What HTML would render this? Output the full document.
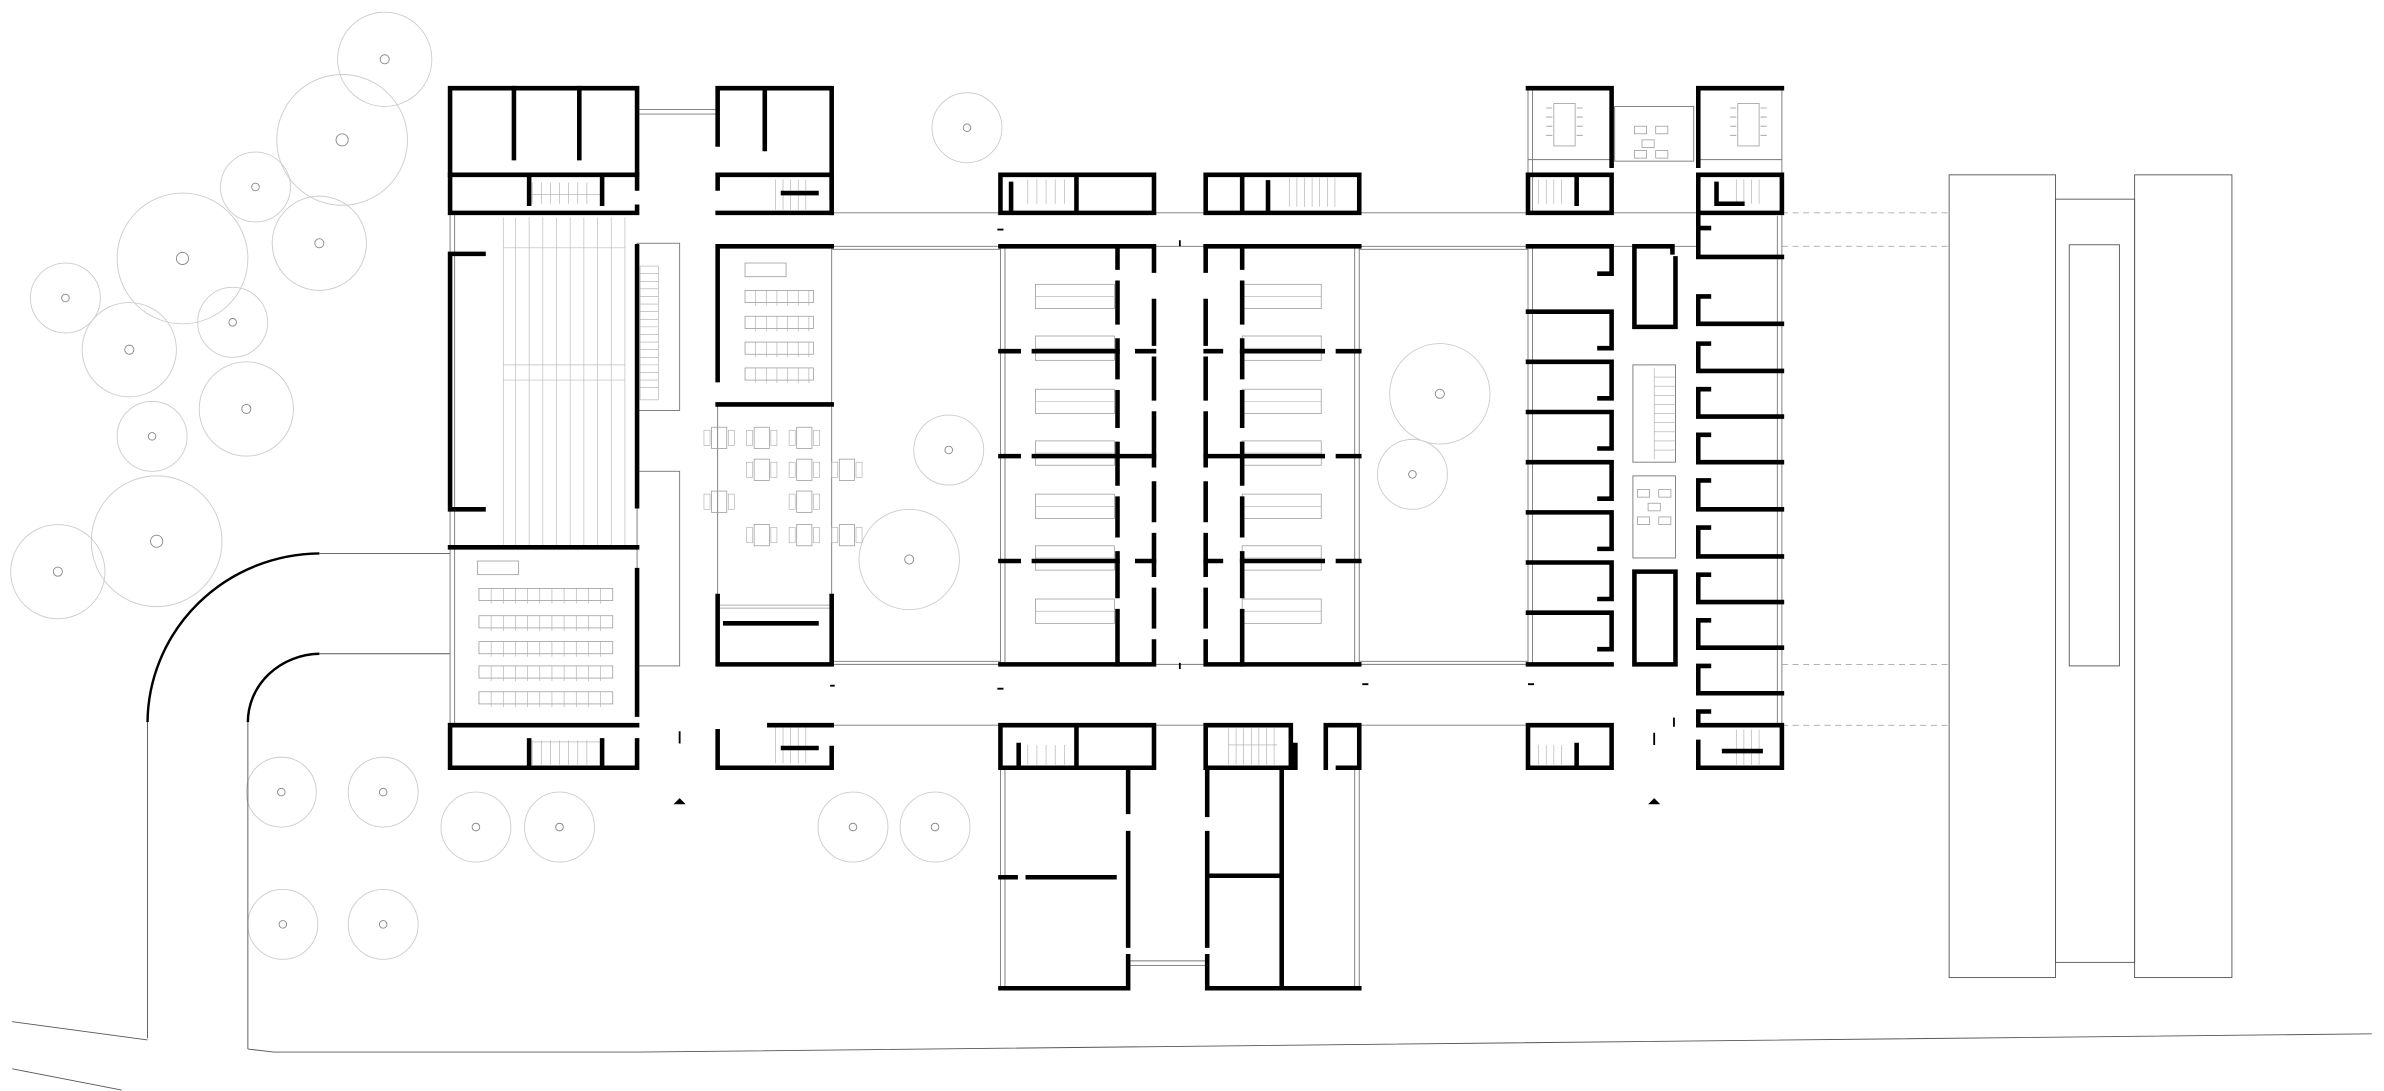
<!DOCTYPE html>
<html><head><meta charset="utf-8"><style>
html,body{margin:0;padding:0;background:#fff;}
svg{display:block;}
</style></head><body>
<svg width="2384" height="1091" viewBox="0 0 1568 717.6" xmlns="http://www.w3.org/2000/svg">
<defs>
<g id="chairrow"><rect x="0" y="0" width="88" height="8" fill="none" stroke="#999" stroke-width="0.5"/>
<path d="M8,0v10M16,0v10M24,0v10M32,0v10M40,0v10M48,0v10M56,0v10M64,0v10M72,0v10M80,0v10" stroke="#aaa" stroke-width="0.4"/></g>
<g id="chairrow2"><rect x="0" y="0" width="45" height="8" fill="none" stroke="#999" stroke-width="0.5"/>
<path d="M7,0v10M14,0v10M21,0v10M28,0v10M35,0v10M42,0v10" stroke="#aaa" stroke-width="0.4"/></g>
<g id="tbl"><rect x="0" y="0" width="10" height="14" fill="none" stroke="#999" stroke-width="0.5"/><rect x="-5" y="2" width="4" height="10" fill="none" stroke="#aaa" stroke-width="0.4"/><rect x="11" y="2" width="4" height="10" fill="none" stroke="#aaa" stroke-width="0.4"/></g>
<g id="desk"><rect x="0" y="0" width="52" height="16" fill="none" stroke="#999" stroke-width="0.5"/><line x1="0" y1="8" x2="52" y2="8" stroke="#aaa" stroke-width="0.4"/></g>
</defs>

<g fill="none" stroke="#ccc" stroke-width="0.6">
<circle cx="253" cy="39" r="31"/><circle cx="225" cy="92" r="43"/><circle cx="168" cy="123" r="23"/><circle cx="120" cy="170" r="43"/><circle cx="210" cy="160" r="31"/><circle cx="43" cy="196" r="23"/><circle cx="85" cy="230" r="31"/><circle cx="153" cy="212" r="23"/><circle cx="162" cy="269" r="31"/><circle cx="100" cy="287" r="23"/><circle cx="103" cy="356" r="43"/><circle cx="38" cy="376" r="31"/><circle cx="636" cy="84" r="23"/><circle cx="947" cy="259" r="33"/><circle cx="929" cy="312" r="23"/><circle cx="624" cy="296" r="23"/><circle cx="598" cy="368" r="33"/><circle cx="185" cy="521" r="23"/><circle cx="252" cy="521" r="23"/><circle cx="313" cy="544" r="23"/><circle cx="368" cy="544" r="23"/><circle cx="561" cy="544" r="23"/><circle cx="615" cy="544" r="23"/><circle cx="186" cy="608" r="23"/><circle cx="252" cy="608" r="23"/>
</g>
<g fill="none" stroke="#888" stroke-width="0.6">
<circle cx="253" cy="39" r="3"/><circle cx="225" cy="92" r="4"/><circle cx="168" cy="123" r="2.5"/><circle cx="120" cy="170" r="4"/><circle cx="210" cy="160" r="3"/><circle cx="43" cy="196" r="2.5"/><circle cx="85" cy="230" r="3"/><circle cx="153" cy="212" r="2.5"/><circle cx="162" cy="269" r="3"/><circle cx="100" cy="287" r="2.5"/><circle cx="103" cy="356" r="4"/><circle cx="38" cy="376" r="3"/><circle cx="636" cy="84" r="2.5"/><circle cx="947" cy="259" r="3"/><circle cx="929" cy="312" r="2.5"/><circle cx="624" cy="296" r="2.5"/><circle cx="598" cy="368" r="3"/><circle cx="185" cy="521" r="2.5"/><circle cx="252" cy="521" r="2.5"/><circle cx="313" cy="544" r="2.5"/><circle cx="368" cy="544" r="2.5"/><circle cx="561" cy="544" r="2.5"/><circle cx="615" cy="544" r="2.5"/><circle cx="186" cy="608" r="2.5"/><circle cx="252" cy="608" r="2.5"/>
</g>

<g fill="none" stroke="#555" stroke-width="0.6">
<path d="M210,364H296M210,430H296"/>
<path d="M97,475V683M163,475V690"/>
<path d="M163,690L180,692H420L1560,680"/>
<path d="M8,672L97,684M8,703L80,717"/>
</g>
<g fill="none" stroke="#000" stroke-width="1.6">
<path d="M97,475A114,112 0 0 1 210,364"/>
<path d="M163,475A48,45 0 0 1 210,430"/>
</g>

<g fill="none" stroke="#777" stroke-width="0.6">
<path d="M296,140V477M299,140V477"/>
<path d="M419,72H472M419,75H472"/>
<path d="M547,140H658M547,162H658M759,140H793M759,162H793M894,140H1005M894,162H1005M1060,140H1117M1060,162H1117"/>
<path d="M547,437H658M547,477H658M759,437H793M759,477H793M894,437H1005M894,477H1005"/>
<path d="M547,435H658M894,435H1005M547,164H658M894,164H1005"/>
<rect x="419" y="160" width="28" height="110"/><rect x="419" y="310" width="28" height="128"/>
<path d="M547,162V437M472,266V392"/>
<path d="M658,162V437M661,162V437M894,162V437M891,162V437"/>
<path d="M658,505V650M661,505V650M894,505V650M891,505V650"/>
<path d="M742,632H793M742,635H793"/>
<path d="M1005,58V140M1008,58V140M1005,162V437M1008,162V437M1172,58V505M1169,142V477"/>
<path d="M1005,105H1060M1117,105H1172"/>
<rect x="1074" y="240" width="28" height="64"/><rect x="1074" y="313" width="28" height="54"/>
<rect x="1062" y="70" width="52" height="36"/>
</g>
<g fill="none" stroke="#999" stroke-width="0.5" stroke-dasharray="4,3">
<path d="M1172,140H1282M1172,162H1282M1172,437H1282M1172,477H1282"/>
</g>
<g fill="none" stroke="#555" stroke-width="0.6">
<rect x="1282" y="115" width="70" height="528"/><rect x="1352" y="131" width="52" height="502"/><rect x="1404" y="115" width="64" height="528"/><rect x="1361" y="161" width="33" height="277"/>
</g>

<g stroke="#bbb" stroke-width="0.45">
<path d="M331,143V360M339,143V360M348,143V360M357,143V360M366,143V360M375,143V360M384,143V360M393,143V360M402,143V360M411,143V360"/>
<path d="M331,163H411M331,240H411M331,250H411"/>
</g>
<g stroke="#aaa" stroke-width="0.4" fill="none">
<rect x="421" y="175" width="12" height="88"/>
<path d="M421,180H433M421,185H433M421,190H433M421,195H433M421,200H433M421,205H433M421,210H433M421,215H433M421,220H433M421,225H433M421,230H433M421,235H433M421,240H433M421,245H433M421,250H433M421,255H433"/>
<path d="M1088,242V302M1088,248H1102M1088,254H1102M1088,260H1102M1088,266H1102M1088,272H1102M1088,278H1102M1088,284H1102M1088,290H1102M1088,296H1102"/>
<path d="M350,120V134M356,120V134M362,120V134M368,120V134M374,120V134M380,120V134M386,120V134M350,128H396"/>
<path d="M350,487V503M356,487V503M362,487V503M368,487V503M374,487V503M380,487V503M386,487V503M350,488H396"/>
<path d="M510,118V138M515,118V138M520,118V138M525,118V138M530,118V138M510,478V502M515,478V502M520,478V502M525,478V502M530,478V502"/>
<path d="M676,118V134M682,118V134M688,118V134M694,118V134M700,118V134M676,490V503M682,490V503M688,490V503M694,490V503M700,490V503"/>
<path d="M848,117V136M853,117V136M858,117V136M863,117V136M868,117V136M873,117V136M878,117V136M808,479V503M813,479V503M818,479V503M823,479V503M828,479V503M833,479V503M838,479V503M808,490H840"/>
<path d="M1012,118V134M1017,118V134M1022,118V134M1027,118V134M1012,490V503M1017,490V503M1022,490V503M1027,490V503"/>
<path d="M1142,118V134M1147,118V134M1152,118V134M1157,118V134M1142,480V503M1147,480V503M1152,480V503M1157,480V503"/>
</g>

<use href="#chairrow" x="315" y="387"/><use href="#chairrow" x="315" y="405"/><use href="#chairrow" x="315" y="422"/><use href="#chairrow" x="315" y="438"/><use href="#chairrow" x="315" y="455"/>
<rect x="314" y="369" width="27" height="9" fill="none" stroke="#999" stroke-width="0.5"/>
<use href="#chairrow2" x="490" y="191"/><use href="#chairrow2" x="490" y="208"/><use href="#chairrow2" x="490" y="225"/><use href="#chairrow2" x="490" y="242"/>
<rect x="490" y="173" width="27" height="9" fill="none" stroke="#999" stroke-width="0.5"/>
<use href="#tbl" x="468" y="281"/><use href="#tbl" x="496" y="281"/><use href="#tbl" x="524" y="281"/>
<use href="#tbl" x="496" y="302"/><use href="#tbl" x="524" y="302"/><use href="#tbl" x="552" y="302"/>
<use href="#tbl" x="468" y="323"/><use href="#tbl" x="524" y="323"/>
<use href="#tbl" x="496" y="345"/><use href="#tbl" x="524" y="345"/><use href="#tbl" x="552" y="345"/>
<g>
<use href="#desk" x="681" y="187"/><use href="#desk" x="681" y="221"/><use href="#desk" x="681" y="256"/><use href="#desk" x="681" y="290"/><use href="#desk" x="681" y="325"/><use href="#desk" x="681" y="359"/><use href="#desk" x="681" y="394"/>
<use href="#desk" x="817" y="187"/><use href="#desk" x="817" y="221"/><use href="#desk" x="817" y="256"/><use href="#desk" x="817" y="290"/><use href="#desk" x="817" y="325"/><use href="#desk" x="817" y="359"/><use href="#desk" x="817" y="394"/>
</g>
<g fill="none" stroke="#999" stroke-width="0.5">
<rect x="1022" y="68" width="14" height="28"/><rect x="1143" y="68" width="14" height="28"/>
<path d="M1017,71h4M1017,77h4M1017,83h4M1017,89h4M1037,71h4M1037,77h4M1037,83h4M1037,89h4M1138,71h4M1138,77h4M1138,83h4M1138,89h4M1158,71h4M1158,77h4M1158,83h4M1158,89h4"/>
<rect x="1075" y="83" width="8" height="5"/><rect x="1089" y="83" width="8" height="5"/><rect x="1080" y="92" width="8" height="5"/><rect x="1075" y="99" width="8" height="5"/><rect x="1089" y="99" width="8" height="5"/>
<rect x="1077" y="322" width="8" height="5"/><rect x="1091" y="322" width="8" height="5"/><rect x="1084" y="331" width="8" height="5"/><rect x="1077" y="340" width="8" height="5"/><rect x="1091" y="340" width="8" height="5"/>
<rect x="473" y="398" width="73" height="2"/>
</g>

<g fill="none" stroke="#000" stroke-width="3" stroke-linecap="square">
<path d="M419,124V58H296V140H419V136"/>
<path d="M296,115H419"/>
<path d="M338,58V104M381,58V104M348,115V134M396,115V134"/>
<path d="M318,167H296V335H318"/>
<path d="M419,162V333"/>
<path d="M296,360H419"/>
<path d="M419,375V470"/>
<path d="M296,477H419M296,477V505H419V487M348,487V505M396,487V505"/>
<path d="M472,95V58H547V140M503,58V98"/>
<path d="M472,115H547M472,124V115M547,115V130"/>
<path d="M472,140H547"/>
<path d="M515,127H537"/>
<path d="M472,250V162H547M472,266H547"/>
<path d="M472,392V437H547V392M477,410H537"/>
<path d="M506,477H547M472,481V505H547V492M515,492H537"/>
<path d="M658,140V115H759V140H658M708,115V140M665,121V138"/>
<path d="M658,162H759V178M735,162V176M735,186V212M735,224V248M735,258V280M735,292V318M735,328V352M735,364V392M735,402V437"/>
<path d="M759,198V226M759,236V262M759,272V306M759,318V342M759,352V378M759,388V412M759,422V437H658"/>
<path d="M658,231H670M680,231H735M658,300H670M680,300H759M658,369H670M680,369H735M748,231H759M748,369H759"/>
<path d="M658,477H759V505H658V477M708,477V505M670,490V505"/>
<path d="M742,505V534M742,548V622M742,629V650H658M658,577H668M676,577H733"/>
<path d="M793,140V115H894V140H793M817,115V140M834,120V140"/>
<path d="M793,162H894M817,162V176M817,186V212M817,224V248M817,258V280M817,292V318M817,328V352M817,364V392M817,402V437"/>
<path d="M793,178V162M793,198V226M793,236V262M793,272V306M793,318V342M793,352V378M793,388V412M793,422V437H894"/>
<path d="M817,231H870M880,231H894M793,300H870M880,300H894M817,369H870M880,369H894M793,231H803M793,369H803"/>
<path d="M793,477H849V505H793V477M872,477V505M872,477H894V505H880M852,490V505"/>
<path d="M794,505V536M794,548V622M794,629V650H894M843,505V650M794,576H843"/>
<path d="M1005,58H1060V109"/>
<path d="M1005,115H1060V140H1005V115M1037,118V134M1060,128V140"/>
<path d="M1005,162H1060V180H1052"/>
<path d="M1005,205H1060V229H1052M1005,238H1060V262H1052M1005,271H1060V295H1052M1005,304H1060V328H1052M1005,337H1060V361H1052M1005,370H1060V394H1052M1005,403H1060V427H1052M1005,437H1060"/>
<path d="M1005,477H1060V505H1005V477M1037,490V505"/>
<path d="M1100,166V162H1075V215H1102V170"/>
<path d="M1075,390V376H1102V437H1075V384"/>
<path d="M1117,58H1172M1117,58V109"/>
<path d="M1117,115H1172V140H1117V115M1129,121V134H1146"/>
<path d="M1117,150V142M1124,150H1117V169H1172"/>
<path d="M1124,195H1117V213H1172M1124,226H1117V244H1172M1124,256H1117V274H1172M1124,286H1117V304H1172M1124,316H1117V335H1172M1124,347H1117V366H1172M1124,378H1117V396H1172M1124,408H1117V426H1172M1124,438H1117V456H1172M1124,468H1117V477H1172V505H1117V488"/>
<path d="M1134,494H1158"/>
</g>
<g stroke="#000" stroke-width="1.2">
<path d="M776,158V162M776,436V440M1101,472V478M447,481V489M1088,482V490M546,451H549M656,151H660M1005,450H1009M656,453H660M896,450H900"/>
</g>
<path d="M443,529L447,525L451,529Z" fill="#000"/>
<path d="M1084,529L1088,525L1092,529Z" fill="#000"/>
</svg>
</body></html>
